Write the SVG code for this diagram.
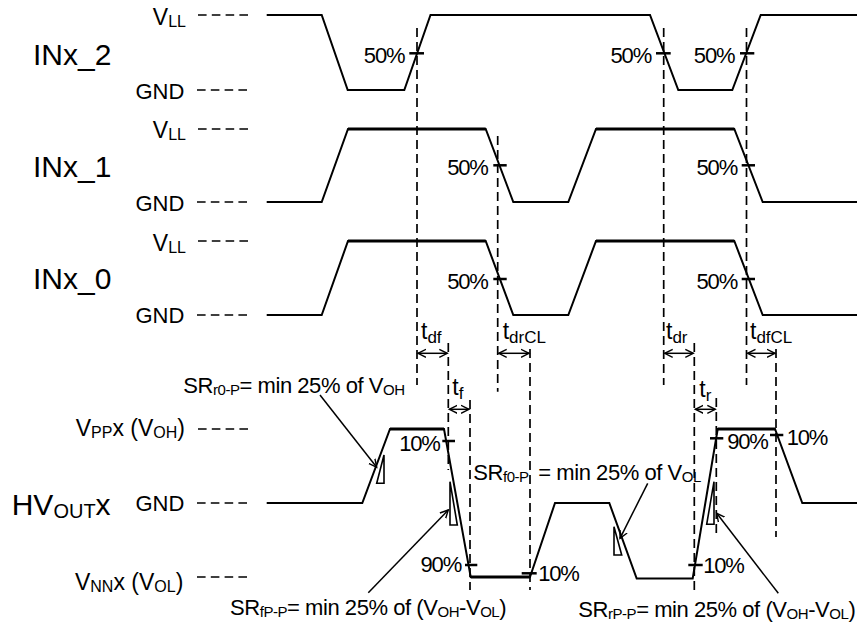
<svg xmlns="http://www.w3.org/2000/svg" width="857" height="629" viewBox="0 0 857 629">
<defs>
<style>
text{font-family:"Liberation Sans",Arial,sans-serif;fill:#000}
.big{font-size:30px}
.lab{font-size:22px}
.vl{font-size:23px}
.pct{font-size:22px;letter-spacing:-1.2px}
.sr{font-size:22px;letter-spacing:-0.45px}
.sub{font-size:15px}
.vsub{font-size:16px}
.tl{font-size:23px}
.tsub{font-size:17px}
.wave{fill:none;stroke:#000;stroke-width:2;stroke-linejoin:miter}
.thick{stroke:#000;stroke-width:2.8}
.lvl{stroke:#000;stroke-width:1.7;stroke-dasharray:8.6 5.2}
.vd{stroke:#000;stroke-width:1.7;stroke-dasharray:9 5}
.tick{stroke:#000;stroke-width:2.5}
.tri{fill:none;stroke:#000;stroke-width:1.6}
.arr{stroke:#000;stroke-width:1.5;fill:none}
</style>
<marker id="ah" markerUnits="userSpaceOnUse" markerWidth="10" markerHeight="10" refX="8" refY="4" orient="auto-start-reverse" viewBox="0 0 10 8">
<path d="M0,0 L8,4 L0,8" fill="none" stroke="#000" stroke-width="1.4"/>
</marker>
</defs>
<rect width="857" height="629" fill="#fff"/>

<g id="INx_2">
<text class="big" x="33" y="65">INx_2</text>
<text class="vl" x="186" y="25" text-anchor="end">V<tspan class="vsub" dy="2">LL</tspan></text>
<text class="lab" x="184.3" y="99" text-anchor="end">GND</text>
<line class="lvl" x1="198" y1="15" x2="248" y2="15"/>
<line class="lvl" x1="197" y1="90" x2="247" y2="90"/>
<path class="wave" d="M266.7,15 H321.7 L347.7,90 H404.3 L430.5,15 H650 L678.3,90 H732.3 L760.7,15 H857"/>
<line class="tick" x1="409.3" y1="53.3" x2="424" y2="53.3"/>
<line class="tick" x1="656" y1="53.3" x2="670.7" y2="53.3"/>
<line class="tick" x1="740" y1="53.3" x2="754.3" y2="53.3"/>
<text class="pct" x="404.3" y="63.3" text-anchor="end">50%</text>
<text class="pct" x="651" y="63.3" text-anchor="end">50%</text>
<text class="pct" x="734.3" y="63.3" text-anchor="end">50%</text>
</g>

<g id="INx_1">
<text class="big" x="33" y="177">INx_1</text>
<text class="vl" x="186" y="138" text-anchor="end">V<tspan class="vsub" dy="2">LL</tspan></text>
<text class="lab" x="184.3" y="211" text-anchor="end">GND</text>
<line class="lvl" x1="198" y1="129" x2="248" y2="129"/>
<line class="lvl" x1="197" y1="202" x2="247" y2="202"/>
<path class="wave" d="M266.7,202 H321.7 L348,129 H485.7 L513.3,202 H568.3 L596,129 H734.3 L762.7,202 H857"/>
<line class="thick" x1="348" y1="129" x2="485.7" y2="129"/>
<line class="thick" x1="596" y1="129" x2="734.3" y2="129"/>
<line class="tick" x1="493.3" y1="165.3" x2="506.7" y2="165.3"/>
<line class="tick" x1="741.7" y1="165.3" x2="755" y2="165.3"/>
<text class="pct" x="487.7" y="175" text-anchor="end">50%</text>
<text class="pct" x="737" y="175" text-anchor="end">50%</text>
</g>

<g id="INx_0">
<text class="big" x="33" y="289">INx_0</text>
<text class="vl" x="186" y="251" text-anchor="end">V<tspan class="vsub" dy="2">LL</tspan></text>
<text class="lab" x="184.3" y="323" text-anchor="end">GND</text>
<line class="lvl" x1="198" y1="241" x2="248" y2="241"/>
<line class="lvl" x1="197" y1="315" x2="247" y2="315"/>
<path class="wave" d="M266.7,315 H321.7 L348,241 H485.7 L513.3,315 H568.3 L596,241 H734.3 L762.7,315 H857"/>
<line class="thick" x1="348" y1="241" x2="485.7" y2="241"/>
<line class="thick" x1="596" y1="241" x2="734.3" y2="241"/>
<line class="tick" x1="493.3" y1="279" x2="506.7" y2="279"/>
<line class="tick" x1="741.7" y1="279" x2="755" y2="279"/>
<text class="pct" x="487.7" y="288.5" text-anchor="end">50%</text>
<text class="pct" x="737" y="288.5" text-anchor="end">50%</text>
</g>

<g id="HVOUTx">
<text class="big" x="11.7" y="515">HV<tspan style="font-size:20px" dy="3">OUT</tspan><tspan dy="-3">x</tspan></text>
<text class="vl" x="185" y="436" text-anchor="end">V<tspan class="vsub" dy="2">PP</tspan><tspan dy="-2">x (V</tspan><tspan class="vsub" dy="2">OH</tspan><tspan dy="-2">)</tspan></text>
<text class="lab" x="184.3" y="511" text-anchor="end">GND</text>
<text class="vl" x="183.3" y="590" text-anchor="end">V<tspan class="vsub" dy="2">NN</tspan><tspan dy="-2">x (V</tspan><tspan class="vsub" dy="2">OL</tspan><tspan dy="-2">)</tspan></text>
<line class="lvl" x1="198" y1="429" x2="248" y2="429"/>
<line class="lvl" x1="197" y1="503" x2="247" y2="503"/>
<line class="lvl" x1="197" y1="577" x2="247" y2="577"/>
<path class="wave" d="M266.7,503 H362.3 L390,429 H444 L470.7,577 H530 L555,503 H609.3 L636.7,578.5 H692.7 L717.7,429 H775 L802.3,503 H857"/>
<line class="thick" x1="390" y1="429" x2="444" y2="429"/>
<line class="thick" x1="470.7" y1="577" x2="530" y2="577"/>
<line class="thick" x1="717.7" y1="429" x2="775" y2="429"/>
<line class="tick" x1="442.3" y1="441" x2="455" y2="441"/>
<line class="tick" x1="465" y1="565" x2="477.3" y2="565"/>
<line class="tick" x1="521.7" y1="573.3" x2="536.7" y2="573.3"/>
<line class="tick" x1="688.3" y1="565" x2="702.7" y2="565"/>
<line class="tick" x1="710" y1="438.3" x2="723.3" y2="438.3"/>
<line class="tick" x1="770" y1="435" x2="783.3" y2="435"/>
<text class="pct" x="399.3" y="450.7">10%</text>
<text class="pct" x="461" y="571.7" text-anchor="end">90%</text>
<text class="pct" x="538.3" y="580.7">10%</text>
<text class="pct" x="703.3" y="573.3">10%</text>
<text class="pct" x="727.3" y="449">90%</text>
<text class="pct" x="786.7" y="445">10%</text>
<polygon class="tri" points="384,455 376.7,483.3 384,483.3"/>
<polygon class="tri" points="450,481.7 450,525 457.3,525"/>
<polygon class="tri" points="614,526.7 614,555 621.7,555"/>
<polygon class="tri" points="714,481.7 714,524.3 706.7,524.3"/>
<text class="sr" x="183.3" y="393">SR<tspan class="sub" dy="2">r0-P</tspan><tspan dy="-2">= min 25% of V</tspan><tspan class="sub" dy="2">OH</tspan></text>
<text class="sr" x="473.3" y="480">SR<tspan class="sub" dy="2">f0-P</tspan><tspan x="538.3" dy="-2">= min 25% of V</tspan><tspan class="sub" dy="2">OL</tspan></text>
<text class="sr" x="230" y="615">SR<tspan class="sub" dy="2">fP-P</tspan><tspan dy="-2">= min 25% of (V</tspan><tspan class="sub" dy="2">OH</tspan><tspan dy="-2">-V</tspan><tspan class="sub" dy="2">OL</tspan><tspan dy="-2">)</tspan></text>
<text class="sr" x="578.3" y="616.7">SR<tspan class="sub" dy="2">rP-P</tspan><tspan dy="-2">= min 25% of (V</tspan><tspan class="sub" dy="2">OH</tspan><tspan dy="-2">-V</tspan><tspan class="sub" dy="2">OL</tspan><tspan dy="-2">)</tspan></text>
</g>

<g id="timing-labels">
<text class="tl" x="421" y="339.3">t<tspan class="tsub" dy="4">df</tspan></text>
<text class="tl" x="502.7" y="339.3">t<tspan class="tsub" dy="4">drCL</tspan></text>
<text class="tl" x="666" y="339.3">t<tspan class="tsub" dy="4">dr</tspan></text>
<text class="tl" x="750" y="339.3">t<tspan class="tsub" dy="4">dfCL</tspan></text>
<text class="tl" x="452.3" y="395">t<tspan class="tsub" dy="4">f</tspan></text>
<text class="tl" x="699.3" y="396.7">t<tspan class="tsub" dy="4">r</tspan></text>
</g>

<g id="connectors">
<line class="vd" x1="417" y1="28" x2="417" y2="385"/>
<line class="vd" x1="663.7" y1="28" x2="663.7" y2="385"/>
<line class="vd" x1="746.5" y1="28" x2="746.5" y2="385"/>
<line class="vd" x1="497.7" y1="136" x2="497.7" y2="391.7"/>
<line class="vd" x1="448.3" y1="343" x2="448.3" y2="470"/>
<line class="vd" x1="470" y1="400" x2="470" y2="590"/>
<line class="vd" x1="530" y1="349" x2="530" y2="590"/>
<line class="vd" x1="694.3" y1="343" x2="694.3" y2="590"/>
<line class="vd" x1="716.3" y1="398" x2="716.3" y2="537"/>
<line class="vd" x1="776" y1="349" x2="776" y2="537"/>
<line class="arr" x1="418" y1="353.3" x2="447.3" y2="353.3" marker-start="url(#ah)" marker-end="url(#ah)"/>
<line class="arr" x1="498.7" y1="353.3" x2="529" y2="353.3" marker-start="url(#ah)" marker-end="url(#ah)"/>
<line class="arr" x1="664.7" y1="353.3" x2="693.3" y2="353.3" marker-start="url(#ah)" marker-end="url(#ah)"/>
<line class="arr" x1="747.5" y1="353.3" x2="775" y2="353.3" marker-start="url(#ah)" marker-end="url(#ah)"/>
<line class="arr" x1="449.3" y1="409.3" x2="469" y2="409.3" marker-start="url(#ah)" marker-end="url(#ah)"/>
<line class="arr" x1="695.3" y1="409.3" x2="715.3" y2="409.3" marker-start="url(#ah)" marker-end="url(#ah)"/>
<line class="arr" x1="320" y1="395" x2="376.7" y2="467.3" marker-end="url(#ah)"/>
<line class="arr" x1="368.3" y1="592.7" x2="448.3" y2="510" marker-end="url(#ah)"/>
<line class="arr" x1="647.7" y1="483.3" x2="620" y2="538.3" marker-end="url(#ah)"/>
<line class="arr" x1="778.3" y1="593.3" x2="716.7" y2="513.3" marker-end="url(#ah)"/>
</g>
</svg>
